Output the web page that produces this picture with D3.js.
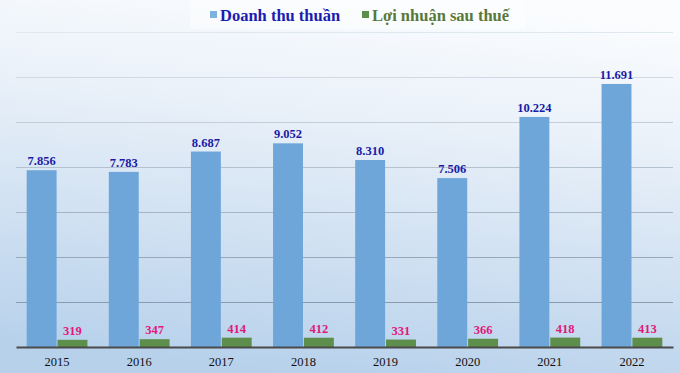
<!DOCTYPE html>
<html>
<head>
<meta charset="utf-8">
<script src="https://cdn.jsdelivr.net/npm/d3@7"></script>
<style>
  body { margin: 0; }
  svg { display: block; }
</style>
</head>
<body>
<div id="chart"></div>
<script>
// data
const years = ["2015", "2016", "2017", "2018", "2019", "2020", "2021", "2022"];
const revenue = [7856, 7783, 8687, 9052, 8310, 7506, 10224, 11691];
const profit = [319, 347, 414, 412, 331, 366, 418, 413];
const yTicks = [0, 2000, 4000, 6000, 8000, 10000, 12000, 14000];
const seriesNames = ["Doanh thu thuần", "Lợi nhuận sau thuế"];

const width = 680, height = 373;
const margin = { top: 32, right: 7, bottom: 26, left: 16 };

const vn = d3.formatLocale({ decimal: ",", thousands: ".", grouping: [3], currency: ["", ""] });
const fmt = vn.format(",d");

const svg = d3.select("#chart").append("svg")
  .attr("width", width)
  .attr("height", height);

// background gradient
const defs = svg.append("defs");
const grad = defs.append("linearGradient")
  .attr("id", "bg")
  .attr("x1", "0.6").attr("y1", "0")
  .attr("x2", "0.4").attr("y2", "1");
grad.append("stop").attr("offset", "0").attr("stop-color", "#fafcfe");
grad.append("stop").attr("offset", "0.3").attr("stop-color", "#eaf1f9");
grad.append("stop").attr("offset", "1").attr("stop-color", "#b7d1eb");

svg.append("rect")
  .attr("width", width).attr("height", height)
  .attr("fill", "url(#bg)");

const x = d3.scaleBand()
  .domain(years)
  .range([margin.left, width - margin.right])
  .paddingInner(0.26)
  .paddingOuter(0.13);

const inner = d3.scaleBand()
  .domain([0, 1])
  .range([0, x.bandwidth()])
  .paddingInner(0.03);

const y = d3.scaleLinear()
  .domain([0, 14000])
  .range([height - margin.bottom, margin.top]);

// gridlines
const gridColor = d3.scaleLinear()
  .domain([0, 14000])
  .range(["#7b8ea3", "#dfe7ef"]);

svg.append("g")
  .selectAll("line")
  .data(yTicks.slice(1))
  .join("line")
  .attr("x1", margin.left)
  .attr("x2", width - margin.right)
  .attr("y1", d => Math.round(y(d)) + 0.5)
  .attr("y2", d => Math.round(y(d)) + 0.5)
  .attr("stroke", d => gridColor(d))
  .attr("stroke-width", 1);

const groups = svg.append("g")
  .selectAll("g")
  .data(years.map((yr, i) => ({ yr, vals: [revenue[i], profit[i]] })))
  .join("g")
  .attr("transform", d => `translate(${x(d.yr)},0)`);

const barColors = ["#6ea6da", "#5d8e4b"];
const labelColors = ["#1a1aa6", "#e0187a"];

groups.selectAll("rect")
  .data(d => d.vals)
  .join("rect")
  .attr("x", (d, i) => inner(i))
  .attr("width", inner.bandwidth())
  .attr("y", d => y(d))
  .attr("height", d => y(0) - y(d))
  .attr("fill", (d, i) => barColors[i]);

groups.selectAll("text")
  .data(d => d.vals)
  .join("text")
  .attr("x", (d, i) => inner(i) + inner.bandwidth() / 2)
  .attr("y", d => y(d) - 5)
  .attr("text-anchor", "middle")
  .attr("font-family", "'Liberation Serif', 'Times New Roman', serif")
  .attr("font-weight", "bold")
  .attr("font-size", 12.5)
  .attr("fill", (d, i) => labelColors[i])
  .text(d => fmt(d));

// x axis
const xAxis = svg.append("g")
  .attr("transform", `translate(0,${y(0)})`)
  .call(d3.axisBottom(x).tickSize(0).tickPadding(10));
xAxis.select(".domain")
  .attr("stroke", "#4a4a4a")
  .attr("stroke-width", 2);
xAxis.selectAll("text")
  .attr("font-family", "'Liberation Serif', 'Times New Roman', serif")
  .attr("font-size", 12.5)
  .attr("fill", "#111");

// legend
svg.append("rect")
  .attr("x", 190).attr("y", 0)
  .attr("width", 335).attr("height", 29)
  .attr("fill", "#ffffff").attr("opacity", 0.45);

const legendX = [210, 362];
const legendText = ["#1c1cb0", "#58783a"];
const legendBox = ["#7eb1de", "#5d8e4b"];
const legend = svg.append("g")
  .selectAll("g")
  .data(seriesNames)
  .join("g")
  .attr("transform", (d, i) => `translate(${legendX[i]},0)`);
legend.append("rect")
  .attr("x", 0).attr("y", 11)
  .attr("width", 7).attr("height", 7)
  .attr("fill", (d, i) => legendBox[i]);
legend.append("text")
  .attr("x", 10).attr("y", 21)
  .attr("font-family", "'Liberation Serif', 'Times New Roman', serif")
  .attr("font-weight", "bold")
  .attr("font-size", 16.5)
  .attr("fill", (d, i) => legendText[i])
  .text(d => d);
</script>
</body>
</html>
